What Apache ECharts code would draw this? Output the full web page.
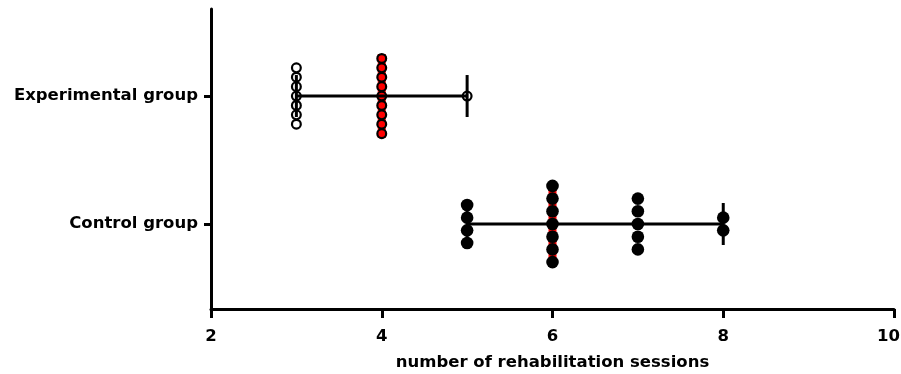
<!DOCTYPE html>
<html>
<head>
<meta charset="utf-8">
<script src="https://cdn.jsdelivr.net/npm/echarts@6/dist/echarts.min.js"></script>
<style>
  html, body { margin: 0; padding: 0; background: #fff; }
  #main { width: 901px; height: 374px; }
</style>
</head>
<body>
<div id="main"></div>
<script>
// ---- data ----
const categories = ['Control group', 'Experimental group'];
const categoryRows = [1, 2];
const controlSessions = [5, 5, 5, 5, 6, 6, 6, 6, 6, 6, 6, 7, 7, 7, 7, 7, 8, 8];
const experimentalSessions = [3, 3, 3, 3, 3, 3, 3, 4, 4, 4, 4, 4, 4, 4, 4, 4, 5];
const xTickValues = [2, 4, 6, 8, 10];
const xAxisTitle = 'number of rehabilitation sessions';

// ---- helpers ----
function stackPoints(values, row) {
  const counts = {};
  values.forEach(v => { counts[v] = (counts[v] || 0) + 1; });
  const seen = {};
  return values.map(v => {
    const i = seen[v] || 0;
    seen[v] = i + 1;
    return [v, row, i, counts[v]];
  });
}
function median(values) {
  const s = values.slice().sort((a, b) => a - b);
  const n = s.length;
  return n % 2 ? s[(n - 1) / 2] : (s[n / 2 - 1] + s[n / 2]) / 2;
}
function summary(values, row) {
  return [row, Math.min.apply(null, values), Math.max.apply(null, values), median(values)];
}
const groups = [controlSessions, experimentalSessions];
const summaries = groups.map((g, i) => summary(g, categoryRows[i]));

const font = 'DejaVu Sans';
const fs = 16.5;
const chart = echarts.init(document.getElementById('main'));

function pointRenderer(spacing, r, fill, stroke, lw) {
  return function (params, api) {
    const p = api.coord([api.value(0), api.value(1)]);
    const idx = api.value(2), n = api.value(3);
    const off = (idx - (n - 1) / 2) * spacing;
    return {
      type: 'circle',
      shape: { cx: p[0], cy: p[1] - off, r: r },
      style: { fill: fill, stroke: stroke, lineWidth: lw }
    };
  };
}

const lastTick = xTickValues[xTickValues.length - 1];

chart.setOption({
  animation: false,
  backgroundColor: '#ffffff',
  grid: { left: 211, right: 7, top: 9, bottom: 65, containLabel: false, outerBoundsMode: 'none' },
  xAxis: {
    type: 'value',
    min: 2, max: 10, interval: 2,
    axisLine: { show: true, onZero: false, lineStyle: { color: '#000', width: 3 } },
    axisTick: { show: true, length: 9, lineStyle: { color: '#000', width: 3 } },
    axisLabel: {
      margin: 19, color: '#000', fontFamily: font, fontWeight: 'bold', fontSize: fs,
      customValues: xTickValues,
      formatter: v => (v === lastTick ? '{last|' + v + '}' : String(v)),
      rich: {
        last: { color: '#000', fontFamily: font, fontWeight: 'bold', fontSize: fs, padding: [0, 11, 0, 0] }
      }
    },
    splitLine: { show: false },
    name: xAxisTitle, nameLocation: 'middle', nameGap: 45,
    nameTextStyle: { color: '#000', fontFamily: font, fontWeight: 'bold', fontSize: fs }
  },
  yAxis: {
    type: 'value',
    min: 0.336, max: 2.68,
    axisLine: { show: true, onZero: false, lineStyle: { color: '#000', width: 3 } },
    axisTick: { show: true, length: 7, customValues: categoryRows, lineStyle: { color: '#000', width: 3 } },
    axisLabel: {
      customValues: categoryRows,
      formatter: v => categories[categoryRows.indexOf(Math.round(v))],
      margin: 13, color: '#000', fontFamily: font, fontWeight: 'bold', fontSize: fs
    },
    splitLine: { show: false }
  },
  series: [
    {
      // median line (red)
      type: 'custom', z: 1, silent: true,
      data: summaries,
      renderItem: function (params, api) {
        const p = api.coord([api.value(3), api.value(0)]);
        return {
          type: 'line',
          shape: { x1: p[0], y1: p[1] - 42, x2: p[0], y2: p[1] + 42 },
          style: { stroke: '#ff0000', lineWidth: 8 }
        };
      }
    },
    {
      // range bars with caps
      type: 'custom', z: 2, silent: true,
      data: summaries,
      renderItem: function (params, api) {
        const a = api.coord([api.value(1), api.value(0)]);
        const b = api.coord([api.value(2), api.value(0)]);
        const st = { stroke: '#000', lineWidth: 3 };
        return {
          type: 'group',
          children: [
            { type: 'line', shape: { x1: a[0], y1: a[1], x2: b[0], y2: b[1] }, style: st },
            { type: 'line', shape: { x1: a[0], y1: a[1] - 21, x2: a[0], y2: a[1] + 21 }, style: st },
            { type: 'line', shape: { x1: b[0], y1: b[1] - 21, x2: b[0], y2: b[1] + 21 }, style: st }
          ]
        };
      }
    },
    {
      type: 'custom', z: 3, silent: true,
      data: stackPoints(experimentalSessions, categoryRows[1]),
      renderItem: pointRenderer(9.4, 4.4, 'rgba(0,0,0,0)', '#000', 2.2)
    },
    {
      type: 'custom', z: 3, silent: true,
      data: stackPoints(controlSessions, categoryRows[0]),
      renderItem: pointRenderer(12.7, 6.3, '#000', '#000', 0)
    }
  ]
});
</script>
</body>
</html>
